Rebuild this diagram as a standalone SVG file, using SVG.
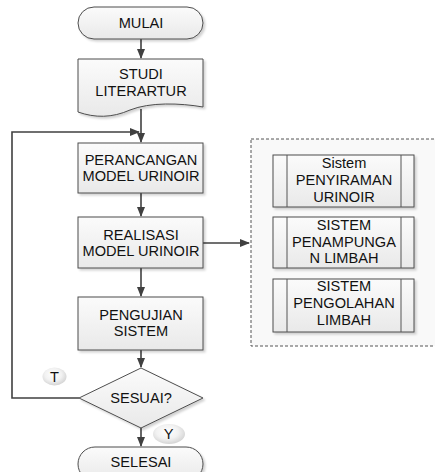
<svg xmlns="http://www.w3.org/2000/svg" width="435" height="472" viewBox="0 0 435 472">
<defs>
<linearGradient id="g" x1="0" y1="0" x2="0" y2="1"><stop offset="0" stop-color="#fbfbfb"/><stop offset="1" stop-color="#e9e9e9"/></linearGradient>
<radialGradient id="rg" cx="0.45" cy="0.4" r="0.62"><stop offset="0" stop-color="#ffffff"/><stop offset="0.55" stop-color="#f2f2f2"/><stop offset="1" stop-color="#d2d2d2"/></radialGradient>
<marker id="ah" markerWidth="10" markerHeight="8" refX="9" refY="4" orient="auto" markerUnits="userSpaceOnUse"><path d="M0,0 L10,4 L0,8 Z" fill="#404040"/></marker>
<filter id="sh" x="-10%" y="-10%" width="130%" height="130%"><feDropShadow dx="2" dy="2" stdDeviation="1" flood-color="#000" flood-opacity="0.18"/></filter>
</defs>
<style>
.n{fill:url(#g);stroke:#4d4d4d;stroke-width:1;filter:url(#sh)}
.t{font-family:"Liberation Sans",Arial,sans-serif;font-size:14.6px;fill:#111;text-anchor:middle}
.c{fill:none;stroke:#404040;stroke-width:1.6}
.b{fill:url(#rg);stroke:none}
</style>
<g id="connectors">
<line class="c" x1="141" y1="39" x2="141" y2="58" marker-end="url(#ah)"/>
<line class="c" x1="141" y1="109" x2="141" y2="142" marker-end="url(#ah)"/>
<polyline class="c" points="79,398 12,398 12,132 139,132" marker-end="url(#ah)"/>
<line class="c" x1="141" y1="193" x2="141" y2="216" marker-end="url(#ah)"/>
<line class="c" x1="203" y1="243" x2="249" y2="243" marker-end="url(#ah)"/>
<line class="c" x1="141" y1="268" x2="141" y2="296" marker-end="url(#ah)"/>
<line class="c" x1="141" y1="350" x2="141" y2="367" marker-end="url(#ah)"/>
<line class="c" x1="141" y1="428" x2="141" y2="446" marker-end="url(#ah)"/>
</g>
<g id="mulai"><rect class="n" x="78" y="7" width="125" height="32" rx="16"/><text class="t" x="141" y="28">MULAI</text></g>
<g id="studi"><path class="n" d="M78,59 H203 V107 C180,103 150,102 130,110 C112,118 95,118 78,112 Z"/><text class="t" x="141" y="79">STUDI</text><text class="t" x="141" y="96">LITERARTUR</text></g>
<g id="perancangan"><rect class="n" x="78" y="143" width="125" height="50"/><text class="t" x="141" y="165">PERANCANGAN</text><text class="t" x="141" y="181">MODEL URINOIR</text></g>
<g id="realisasi"><rect class="n" x="78" y="217" width="125" height="51"/><text class="t" x="141" y="240">REALISASI</text><text class="t" x="141" y="256">MODEL URINOIR</text></g>
<g id="pengujian"><rect class="n" x="78" y="297" width="125" height="53"/><text class="t" x="141" y="320">PENGUJIAN</text><text class="t" x="141" y="336">SISTEM</text></g>
<g id="sesuai"><path class="n" d="M141,368 L203,398 L141,428 L79,398 Z"/><text class="t" x="141" y="403">SESUAI?</text></g>
<g id="selesai"><rect class="n" x="78" y="447" width="125" height="34" rx="17"/><text class="t" x="141" y="467">SELESAI</text></g>
<g id="label-t"><ellipse class="b" cx="54.5" cy="376.5" rx="12" ry="9"/><text class="t" x="54.5" y="382">T</text></g>
<g id="label-y"><ellipse class="b" cx="169" cy="434" rx="16" ry="10"/><text class="t" x="168.5" y="439">Y</text></g>
<g id="subsystem">
<rect x="251" y="139" width="190" height="207" fill="#f9f9f9" stroke="#555" stroke-width="1" stroke-dasharray="3,2"/>
<g id="sistem1"><rect class="n" x="273" y="155" width="141" height="52"/><line x1="287" y1="155" x2="287" y2="207" stroke="#555"/><line x1="401" y1="155" x2="401" y2="207" stroke="#555"/><text class="t" x="344" y="168">Sistem</text><text class="t" x="344" y="185">PENYIRAMAN</text><text class="t" x="344" y="202">URINOIR</text></g>
<g id="sistem2"><rect class="n" x="273" y="217" width="141" height="51"/><line x1="287" y1="217" x2="287" y2="268" stroke="#555"/><line x1="401" y1="217" x2="401" y2="268" stroke="#555"/><text class="t" x="344" y="230">SISTEM</text><text class="t" x="344" y="247">PENAMPUNGA</text><text class="t" x="344" y="263">N LIMBAH</text></g>
<g id="sistem3"><rect class="n" x="273" y="279" width="141" height="53"/><line x1="287" y1="279" x2="287" y2="332" stroke="#555"/><line x1="401" y1="279" x2="401" y2="332" stroke="#555"/><text class="t" x="344" y="291">SISTEM</text><text class="t" x="344" y="308">PENGOLAHAN</text><text class="t" x="344" y="325">LIMBAH</text></g>
</g>
</svg>
